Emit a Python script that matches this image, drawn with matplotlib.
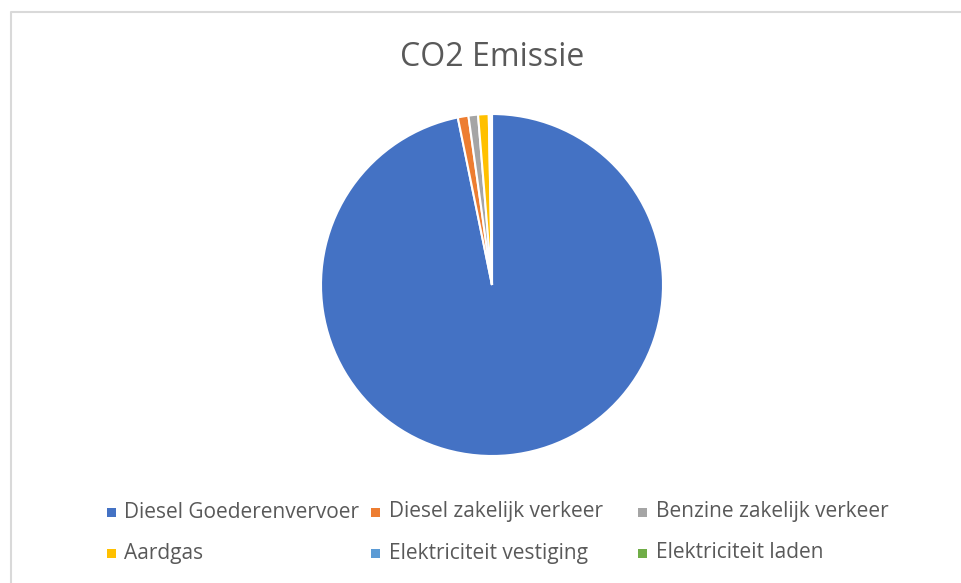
"""CO2 Emissie pie chart, Excel-style."""

import matplotlib

matplotlib.use("Agg")
import matplotlib.pyplot as plt  # noqa: E402
from matplotlib.lines import Line2D  # noqa: E402
from matplotlib.patches import Rectangle  # noqa: E402

# --------------------------------------------------------------------------- #
# Data (percent of total CO2)
# --------------------------------------------------------------------------- #

LABELS = [
    "Diesel Goederenvervoer",
    "Diesel zakelijk verkeer",
    "Benzine zakelijk verkeer",
    "Aardgas",
    "Elektriciteit vestiging",
    "Elektriciteit laden",
]
VALUES = [96.6, 1.0, 0.9, 1.0, 0.15, 0.15]
COLORS = ["#4472C4", "#ED7D31", "#A5A5A5", "#FFC000", "#5B9BD5", "#70AD47"]

TEXT_COLOR = "#595959"
W, H = 962, 583

plt.rcParams["font.family"] = ["Open Sans", "DejaVu Sans"]

fig = plt.figure(figsize=(W / 100, H / 100), dpi=100)

# chart-area border: only the top and left edges are inside the crop
fig.lines.append(
    Line2D([11 / W, 11 / W, 1.0], [0.0, 1 - 12 / H, 1 - 12 / H],
           transform=fig.transFigure, color="#d9d9d9", linewidth=1.5)
)

# pie centred at (492, 285) px, radius 171 px
ax = fig.add_axes([321 / W, (H - 456) / H, 342 / W, 342 / H])
ax.pie(
    VALUES,
    colors=COLORS,
    startangle=90,
    counterclock=False,
    wedgeprops={"edgecolor": "white", "linewidth": 1.5},
)
ax.set_xlim(-1, 1)
ax.set_ylim(-1, 1)
ax.set_aspect("equal")
ax.axis("off")

fig.text(492 / W, 1 - 57 / H, "CO2 Emissie", ha="center", va="center",
         fontsize=23, color=TEXT_COLOR)

# legend, laid out like Excel: three columns, two rows
col_x = [111.5, 376, 643]
row_y = [512, 553]
for i, (label, color) in enumerate(zip(LABELS, COLORS)):
    x = col_x[i % 3]
    y = row_y[i // 3]
    fig.patches.append(
        Rectangle(((x - 4.5) / W, 1 - (y + 4.5) / H), 9 / W, 9 / H,
                  transform=fig.transFigure, facecolor=color, edgecolor="none")
    )
    fig.text((x + 13) / W, 1 - y / H, label, ha="left", va="center",
             fontsize=15, color=TEXT_COLOR)

fig.savefig("out.png", dpi=100)
